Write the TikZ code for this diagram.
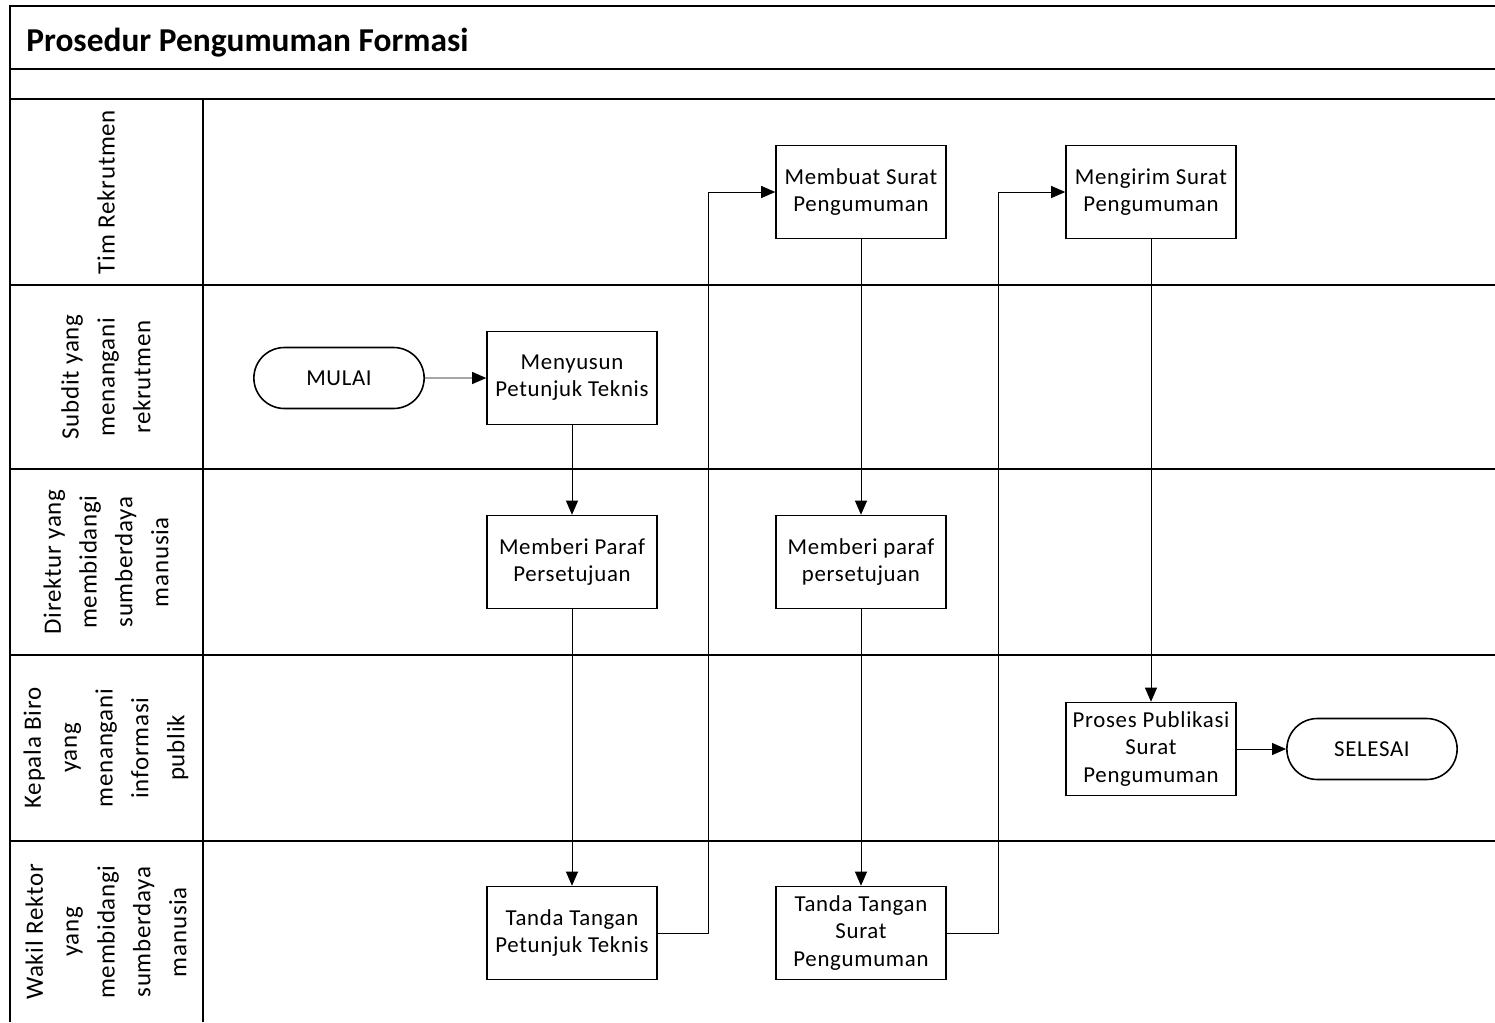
\documentclass[tikz,border=0pt]{standalone}
\usepackage{fontspec}
\setmainfont{Carlito}
\usetikzlibrary{arrows.meta, positioning, shapes.misc}
\tikzset{>={Triangle[length=2.8mm,width=2.4mm]}}
\newfontfamily\boxfont[LetterSpace=3]{Carlito}

\begin{document}
\begin{tikzpicture}[x=0.02cm, y=-0.02cm, line width=0.5pt,
	proc/.style={rectangle, draw, line width=0.9pt, minimum width=3.4cm, minimum height=1.86cm, align=center, inner sep=1pt, font=\boxfont\fontsize{13}{15.5}\selectfont},
	term/.style={rounded rectangle, draw, line width=0.9pt, minimum width=3.64cm, minimum height=1.22cm, font=\boxfont\fontsize{13}{15.5}\selectfont},
	lane/.style={rotate=90, align=center, font=\boxfont\fontsize{14.2}{20.4}\selectfont},
	border/.style={line width=1.3pt}]
		\useasboundingbox (0,0) rectangle (1495,1022);
		
		\draw[border] (1495,6) -- (10,6) -- (10,1022);
		\draw[border] (10,69) -- (1495,69);
		\foreach \y in {99,285,469,655,841}
			\draw[border] (10,\y) -- (1495,\y);
		\draw[border] (203,99) -- (203,1022);
		
		\node [anchor=base west, font=\bfseries\fontsize{19}{22}\selectfont] (title) at (20,51) {Prosedur Pengumuman Formasi};
		
		\node [lane] (L1) at (106,192) {Tim Rekrutmen};
		\node [lane] (L2) at (106,377) {Subdit yang\\menangani\\rekrutmen};
		\node [lane] (L3) at (106,562) {Direktur yang\\membidangi\\sumberdaya\\manusia};
		\node [lane] (L4) at (106,748) {Kepala Biro\\yang\\menangani\\informasi\\publik};
		\node [lane] (L5) at (106,932) {Wakil Rektor\\yang\\membidangi\\sumberdaya\\manusia};
		
		\node [term] (mulai) at (339,378) {MULAI};
		\node [proc] (susun) at (572,378) {Menyusun\\Petunjuk Teknis};
		\node [proc] (paraf1) at (572,562) {Memberi Paraf\\Persetujuan};
		\node [proc] (ttd1) at (572,933) {Tanda Tangan\\Petunjuk Teknis};
		\node [proc] (buat) at (861,192) {Membuat Surat\\Pengumuman};
		\node [proc] (paraf2) at (861,562) {Memberi paraf\\persetujuan};
		\node [proc] (ttd2) at (861,933) {Tanda Tangan\\Surat\\Pengumuman};
		\node [proc] (kirim) at (1151,192) {Mengirim Surat\\Pengumuman};
		\node [proc] (publik) at (1151,749) {Proses Publikasi\\Surat\\Pengumuman};
		\node [term] (selesai) at (1372,749) {SELESAI};
		
		\draw[->] (mulai) -- (susun);
		\draw[->] (susun) -- (paraf1);
		\draw[->] (paraf1) -- (ttd1);
		\draw[->] (ttd1.east) -- ++(51,0) |- (buat.west);
		\draw[->] (buat) -- (paraf2);
		\draw[->] (paraf2) -- (ttd2);
		\draw[->] (ttd2.east) -- ++(52,0) |- (kirim.west);
		\draw[->] (kirim) -- (publik);
		\draw[->] (publik) -- (selesai);
\end{tikzpicture}
\end{document}
